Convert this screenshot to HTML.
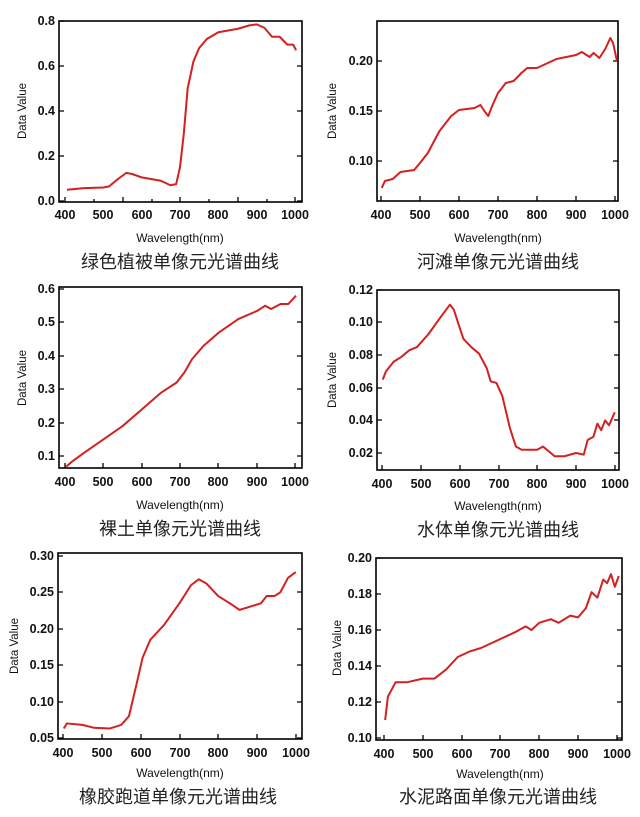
<!DOCTYPE html>
<html><head><meta charset="utf-8"><style>
html,body{margin:0;padding:0;background:#fff}
svg{display:block}
.t{font-family:"Liberation Sans",sans-serif;font-weight:bold;font-size:12.5px;fill:#111}
.yl{font-family:"Liberation Sans",sans-serif;font-size:11.5px;fill:#111}
.xl{font-family:"Liberation Sans",sans-serif;font-size:12px;fill:#111}
.cap{font-family:"Liberation Sans","Noto Sans CJK SC",sans-serif;font-size:18px;fill:#222}
.box{fill:none;stroke:#000;stroke-width:1.6}
.tk{stroke:#000;stroke-width:1.3}
.c{fill:none;stroke:#d42020;stroke-width:2;vector-effect:non-scaling-stroke;stroke-linejoin:round}
</style></head><body>
<svg width="640" height="817" viewBox="0 0 640 817">
<!-- Panel 1 -->
<rect class="box" x="59" y="21" width="243" height="181"/>
<g class="tk">
<path d="M65 202v-5M123 202v-5M180 202v-5M238 202v-5M295 202v-5M94 202v-3M152 202v-3M209 202v-3M267 202v-3"/>
<path d="M59 201h5M59 156h5M59 111h5M59 66h5M59 21h5M302 201h-5M302 156h-5M302 111h-5M302 66h-5"/>
</g>
<g class="t" text-anchor="end"><text x="55" y="205">0.0</text><text x="55" y="160">0.2</text><text x="55" y="115">0.4</text><text x="55" y="70">0.6</text><text x="55" y="25">0.8</text></g>
<g class="t" text-anchor="middle"><text x="65" y="219">400</text><text x="103" y="219">500</text><text x="142" y="219">600</text><text x="180" y="219">700</text><text x="218" y="219">800</text><text x="257" y="219">900</text><text x="295" y="219">1000</text></g>
<text class="yl" transform="translate(26,111) rotate(-90)" text-anchor="middle">Data Value</text>
<text class="xl" x="180" y="242" text-anchor="middle">Wavelength(nm)</text>
<text class="cap" x="180" y="268" text-anchor="middle">绿色植被单像元光谱曲线</text>
<g transform="translate(65,201) scale(0.3833,-225) translate(-400,0)"><polyline class="c" points="405,0.05 450,0.057 500,0.06 515,0.065 540,0.1 560,0.125 575,0.12 600,0.105 650,0.09 675,0.07 690,0.075 700,0.15 710,0.3 720,0.5 735,0.62 750,0.68 770,0.72 800,0.75 850,0.765 880,0.78 900,0.785 920,0.77 940,0.73 960,0.73 980,0.695 995,0.695 1003,0.67"/></g>

<!-- Panel 2 -->
<rect class="box" x="377" y="21" width="241" height="180"/>
<g class="tk">
<path d="M381 201v-5M420 201v-5M459 201v-5M498 201v-5M537 201v-5M576 201v-5M615 201v-5"/>
<path d="M377 161h5M377 111h5M377 61h5M618 161h-5M618 111h-5M618 61h-5"/>
</g>
<g class="t" text-anchor="end"><text x="373" y="165">0.10</text><text x="373" y="115">0.15</text><text x="373" y="65">0.20</text></g>
<g class="t" text-anchor="middle"><text x="381" y="219">400</text><text x="420" y="219">500</text><text x="459" y="219">600</text><text x="498" y="219">700</text><text x="537" y="219">800</text><text x="576" y="219">900</text><text x="615" y="219">1000</text></g>
<text class="yl" transform="translate(336,111) rotate(-90)" text-anchor="middle">Data Value</text>
<text class="xl" x="498" y="242" text-anchor="middle">Wavelength(nm)</text>
<text class="cap" x="498" y="268" text-anchor="middle">河滩单像元光谱曲线</text>
<g transform="translate(381,161) scale(0.39,-1000) translate(-400,-0.10)"><polyline class="c" points="402,0.073 410,0.08 430,0.082 450,0.089 485,0.091 500,0.098 520,0.108 550,0.13 580,0.145 600,0.151 640,0.153 655,0.156 665,0.15 675,0.145 685,0.155 700,0.168 720,0.178 740,0.18 760,0.188 775,0.193 800,0.193 850,0.202 900,0.206 915,0.209 935,0.204 945,0.208 960,0.203 975,0.212 988,0.223 995,0.218 1005,0.2"/></g>

<!-- Panel 3 -->
<rect class="box" x="59" y="287" width="243" height="181"/>
<g class="tk">
<path d="M65 468v-5M103 468v-5M142 468v-5M180 468v-5M218 468v-5M257 468v-5M295 468v-5"/>
<path d="M59 456h5M59 423h5M59 389h5M59 356h5M59 322h5M59 289h5M302 456h-5M302 423h-5M302 389h-5M302 356h-5M302 322h-5"/>
</g>
<g class="t" text-anchor="end"><text x="55" y="460">0.1</text><text x="55" y="427">0.2</text><text x="55" y="393">0.3</text><text x="55" y="360">0.4</text><text x="55" y="326">0.5</text><text x="55" y="293">0.6</text></g>
<g class="t" text-anchor="middle"><text x="65" y="486">400</text><text x="103" y="486">500</text><text x="142" y="486">600</text><text x="180" y="486">700</text><text x="218" y="486">800</text><text x="257" y="486">900</text><text x="295" y="486">1000</text></g>
<text class="yl" transform="translate(26,378) rotate(-90)" text-anchor="middle">Data Value</text>
<text class="xl" x="180" y="509" text-anchor="middle">Wavelength(nm)</text>
<text class="cap" x="180" y="535" text-anchor="middle">裸土单像元光谱曲线</text>
<g transform="translate(65,456) scale(0.385,-334) translate(-400,-0.1)"><polyline class="c" points="403,0.068 420,0.085 450,0.11 500,0.15 550,0.19 600,0.24 650,0.29 690,0.32 710,0.35 730,0.39 760,0.43 800,0.47 850,0.51 900,0.535 920,0.55 935,0.54 960,0.555 980,0.555 1000,0.58"/></g>

<!-- Panel 4 -->
<rect class="box" x="377" y="290" width="242" height="180"/>
<g class="tk">
<path d="M382 470v-5M421 470v-5M460 470v-5M499 470v-5M537 470v-5M576 470v-5M615 470v-5"/>
<path d="M377 453h5M377 420h5M377 388h5M377 355h5M377 322h5M377 290h5M619 453h-5M619 420h-5M619 388h-5M619 355h-5M619 322h-5"/>
</g>
<g class="t" text-anchor="end"><text x="373" y="457">0.02</text><text x="373" y="424">0.04</text><text x="373" y="392">0.06</text><text x="373" y="359">0.08</text><text x="373" y="326">0.10</text><text x="373" y="294">0.12</text></g>
<g class="t" text-anchor="middle"><text x="382" y="488">400</text><text x="421" y="488">500</text><text x="460" y="488">600</text><text x="499" y="488">700</text><text x="537" y="488">800</text><text x="576" y="488">900</text><text x="615" y="488">1000</text></g>
<text class="yl" transform="translate(336,380) rotate(-90)" text-anchor="middle">Data Value</text>
<text class="xl" x="498" y="510" text-anchor="middle">Wavelength(nm)</text>
<text class="cap" x="498" y="536" text-anchor="middle">水体单像元光谱曲线</text>
<g transform="translate(382,453) scale(0.388,-1630) translate(-400,-0.02)"><polyline class="c" points="402,0.065 410,0.07 430,0.076 450,0.079 470,0.083 490,0.085 520,0.093 550,0.103 575,0.111 585,0.108 600,0.097 610,0.09 630,0.085 650,0.081 670,0.072 680,0.064 695,0.063 710,0.055 730,0.035 745,0.024 760,0.022 800,0.022 815,0.024 830,0.021 845,0.018 870,0.018 900,0.02 920,0.019 930,0.028 945,0.03 955,0.038 965,0.034 975,0.04 985,0.037 1000,0.045"/></g>

<!-- Panel 5 -->
<rect class="box" x="58" y="553" width="244" height="186"/>
<g class="tk">
<path d="M63 739v-5M102 739v-5M141 739v-5M180 739v-5M218 739v-5M257 739v-5M296 739v-5"/>
<path d="M58 738h5M58 702h5M58 665h5M58 629h5M58 592h5M58 556h5M302 738h-5M302 702h-5M302 665h-5M302 629h-5M302 592h-5"/>
</g>
<g class="t" text-anchor="end"><text x="54" y="742">0.05</text><text x="54" y="706">0.10</text><text x="54" y="669">0.15</text><text x="54" y="633">0.20</text><text x="54" y="596">0.25</text><text x="54" y="560">0.30</text></g>
<g class="t" text-anchor="middle"><text x="63" y="757">400</text><text x="102" y="757">500</text><text x="141" y="757">600</text><text x="180" y="757">700</text><text x="218" y="757">800</text><text x="257" y="757">900</text><text x="296" y="757">1000</text></g>
<text class="yl" transform="translate(18,646) rotate(-90)" text-anchor="middle">Data Value</text>
<text class="xl" x="180" y="777" text-anchor="middle">Wavelength(nm)</text>
<text class="cap" x="178" y="803" text-anchor="middle">橡胶跑道单像元光谱曲线</text>
<g transform="translate(63,738) scale(0.388,-728) translate(-400,-0.05)"><polyline class="c" points="402,0.063 410,0.07 450,0.068 480,0.064 520,0.063 550,0.068 570,0.08 590,0.125 605,0.16 625,0.185 660,0.205 700,0.235 730,0.26 750,0.268 770,0.262 800,0.245 830,0.235 855,0.226 880,0.23 910,0.235 925,0.245 945,0.245 960,0.25 980,0.27 1000,0.278"/></g>

<!-- Panel 6 -->
<rect class="box" x="376" y="558" width="246" height="182"/>
<g class="tk">
<path d="M384 740v-5M423 740v-5M462 740v-5M500 740v-5M539 740v-5M578 740v-5M617 740v-5"/>
<path d="M376 738h5M376 702h5M376 666h5M376 630h5M376 594h5M376 558h5M622 738h-5M622 702h-5M622 666h-5M622 630h-5M622 594h-5"/>
</g>
<g class="t" text-anchor="end"><text x="372" y="742">0.10</text><text x="372" y="706">0.12</text><text x="372" y="670">0.14</text><text x="372" y="634">0.16</text><text x="372" y="598">0.18</text><text x="372" y="562">0.20</text></g>
<g class="t" text-anchor="middle"><text x="384" y="758">400</text><text x="423" y="758">500</text><text x="462" y="758">600</text><text x="500" y="758">700</text><text x="539" y="758">800</text><text x="578" y="758">900</text><text x="617" y="758">1000</text></g>
<text class="yl" transform="translate(341,648) rotate(-90)" text-anchor="middle">Data Value</text>
<text class="xl" x="500" y="778" text-anchor="middle">Wavelength(nm)</text>
<text class="cap" x="498" y="803" text-anchor="middle">水泥路面单像元光谱曲线</text>
<g transform="translate(384,738) scale(0.388,-1800) translate(-400,-0.10)"><polyline class="c" points="403,0.11 410,0.123 430,0.131 460,0.131 500,0.133 530,0.133 560,0.138 590,0.145 620,0.148 650,0.15 700,0.155 740,0.159 765,0.162 780,0.16 800,0.164 830,0.166 850,0.164 880,0.168 900,0.167 920,0.172 935,0.181 950,0.178 965,0.188 975,0.186 985,0.191 995,0.184 1005,0.19"/></g>
</svg>
</body></html>
